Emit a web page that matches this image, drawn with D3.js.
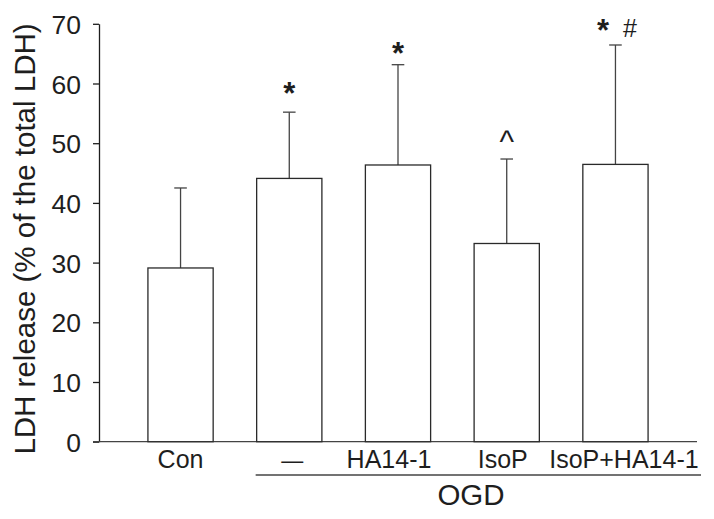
<!DOCTYPE html>
<html>
<head>
<meta charset="utf-8">
<script src="https://cdn.jsdelivr.net/npm/d3@7"></script>
<style>
  html, body { margin: 0; padding: 0; background: #fff; }
  svg { display: block; font-family: Arial, "Liberation Sans", sans-serif; }
</style>
</head>
<body>
<svg id="chart" width="714" height="519"></svg>
<script>
// ---- data ----
const categories = ["Con", "\u2014", "HA14-1", "IsoP", "IsoP+HA14-1"];
const means = [29.1, 44.1, 46.35, 33.2, 46.45];
const errors = [13.4, 11.1, 16.8, 14.15, 20.0];
const annotations = ["", "*", "*", "^", "* #"];
const yTicks = [0, 10, 20, 30, 40, 50, 60, 70];
const groupLabel = "OGD";
const yTitle = "LDH release (% of the total LDH)";

// ---- layout ----
const svg = d3.select("#chart");
const x0 = 99, x1 = 697, yTop = 23.8, yBottom = 441.7;
const y = d3.scaleLinear().domain([0, 70]).range([yBottom, yTop]);
const x = d3.scaleBand().domain(categories).range([x0, x1]).paddingInner(0.4).paddingOuter(0.45);
const ink = "#1e1e1e";

// y axis
const yAxis = d3.axisLeft(y).tickValues(yTicks).tickSize(6).tickPadding(12).tickSizeOuter(0);
const gy = svg.append("g").attr("transform", `translate(${x0},0)`).call(yAxis);
gy.select(".domain").attr("stroke", ink).attr("stroke-width", 1.3);
gy.selectAll(".tick line").attr("stroke", ink).attr("stroke-width", 1.3);
gy.selectAll(".tick text").attr("fill", ink).style("font-size", "26.5px").attr("dy", "0.36em");

// x axis line
svg.append("line").attr("x1", x0 - 6).attr("x2", x1).attr("y1", yBottom).attr("y2", yBottom)
  .attr("stroke", "#444").attr("stroke-width", 1.3);

// error bars (upper only)
const eb = svg.append("g");
categories.forEach((c, i) => {
  const cx = x(c) + x.bandwidth() / 2;
  eb.append("line").attr("x1", cx).attr("x2", cx)
    .attr("y1", y(means[i])).attr("y2", y(means[i] + errors[i]))
    .attr("stroke", "#444").attr("stroke-width", 1.3);
  eb.append("line").attr("x1", cx - 6.3).attr("x2", cx + 6.3)
    .attr("y1", y(means[i] + errors[i])).attr("y2", y(means[i] + errors[i]))
    .attr("stroke", "#444").attr("stroke-width", 1.3);
});

// bars
svg.append("g").selectAll("rect").data(categories).join("rect")
  .attr("x", d => x(d))
  .attr("y", (d, i) => y(means[i]))
  .attr("width", x.bandwidth())
  .attr("height", (d, i) => y(0) - y(means[i]))
  .attr("fill", "#fff").attr("stroke", "#2a2a2a").attr("stroke-width", 1.3);

// annotations
const annGap = [0, 8, 0.5, 6.7, 3.5];
const ann = svg.append("g").attr("fill", ink);
categories.forEach((c, i) => {
  const a = annotations[i];
  if (!a) return;
  const cx = x(c) + x.bandwidth() / 2;
  const base = y(means[i] + errors[i]) - annGap[i];
  if (a === "* #") {
    ann.append("text").attr("x", cx - 12.5).attr("y", base).attr("text-anchor", "middle")
      .style("font-size", "31px").style("font-weight", "bold").text("*");
    ann.append("text").attr("x", cx + 14.5).attr("y", base - 4.5).attr("text-anchor", "middle")
      .style("font-size", "25px").text("#");
  } else if (a === "^") {
    ann.append("text").attr("x", cx).attr("y", base).attr("text-anchor", "middle")
      .style("font-size", "31px").text(a);
  } else {
    ann.append("text").attr("x", cx).attr("y", base).attr("text-anchor", "middle")
      .style("font-size", "31px").style("font-weight", "bold").text(a);
  }
});

// category labels
const labelDx = [0, 3, -9, -4, 8.5];
svg.append("g").selectAll("text").data(categories).join("text")
  .attr("x", (d, i) => x(d) + x.bandwidth() / 2 + labelDx[i])
  .attr("y", 467.5)
  .attr("text-anchor", "middle")
  .attr("fill", ink)
  .style("font-size", (d, i) => i === 1 ? "22px" : "25px")
  .text(d => d);

// group bracket line and label
const gStart = x(categories[1]) - 1;
svg.append("line").attr("x1", gStart).attr("x2", 701).attr("y1", 475).attr("y2", 475)
  .attr("stroke", "#444").attr("stroke-width", 1.3);
svg.append("text").attr("x", 471).attr("y", 505).attr("text-anchor", "middle")
  .attr("fill", ink).style("font-size", "29.5px").text(groupLabel);

// y title
svg.append("text")
  .attr("transform", `translate(35,239) rotate(-90)`)
  .attr("text-anchor", "middle").attr("fill", ink)
  .style("font-size", "29.5px").text(yTitle);
</script>
</body>
</html>
